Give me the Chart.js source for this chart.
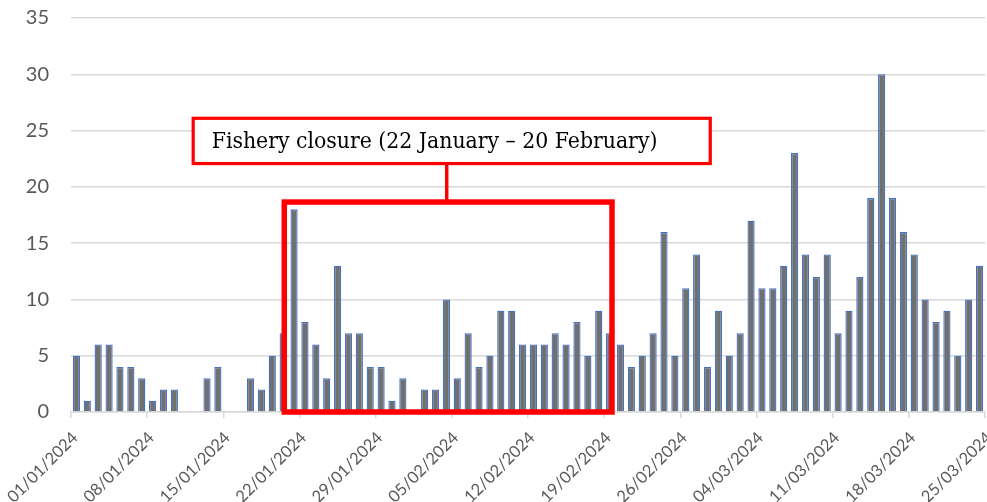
<!DOCTYPE html>
<html>
<head>
<meta charset="utf-8">
<script src="https://cdn.jsdelivr.net/npm/chart.js@4/dist/chart.umd.min.js"></script>
<style>
html,body{margin:0;padding:0;background:#fff;}
#wrap{width:987px;height:502px;}
</style>
</head>
<body>
<div id="wrap"><canvas id="c" width="987" height="502"></canvas></div>
<script>
// Daily dates (01/01/2024 – 24/03/2024)
const janValues = [5,1,6,6,4,4,3,1,2,2,0,0,3,4,0,0,3,2,5,7,18,8,6,3,13,7,7,4,4,1,3];
const febValues = [0,2,2,10,3,7,4,5,9,9,6,6,6,7,6,8,5,9,7,6,4,5,7,16,5,11,14,4,9];
const marValues = [5,7,17,11,11,13,23,14,12,14,7,9,12,19,30,19,16,14,10,8,9,5,10,13];
const tickLabels = ["01/01/2024","08/01/2024","15/01/2024","22/01/2024","29/01/2024","05/02/2024","12/02/2024","19/02/2024","26/02/2024","04/03/2024","11/03/2024","18/03/2024","25/03/2024"];
const annotationText = "Fishery closure (22 January \u2013 20 February)";

function pad(n){return (n<10?"0":"")+n;}
const categories = [];
[[1,31],[2,29],[3,24]].forEach(([m,d])=>{for(let i=1;i<=d;i++)categories.push(pad(i)+"/"+pad(m)+"/2024");});
const values = janValues.concat(febValues, marValues);

const annot = {
  box: {x0:19.6, x1:49.72, yTop:18.65},
  label: {x0:11.23, x1:58.75, yTop:26.09, yBot:22.07},
  connectorX: 34.53
};

const annotationPlugin = {
  id:'closure',
  afterDatasetsDraw(chart){
    const ctx = chart.ctx, xs = chart.scales.x2, ys = chart.scales.y;
    ctx.save();
    ctx.strokeStyle = '#ff0000';
    ctx.lineWidth = 5.5;
    const bx0 = xs.getPixelForValue(annot.box.x0), bx1 = xs.getPixelForValue(annot.box.x1);
    const by0 = ys.getPixelForValue(annot.box.yTop), by1 = ys.getPixelForValue(0);
    ctx.strokeRect(bx0, by0, bx1-bx0, by1-by0);
    const lx0 = xs.getPixelForValue(annot.label.x0), lx1 = xs.getPixelForValue(annot.label.x1);
    const ly0 = ys.getPixelForValue(annot.label.yTop), ly1 = ys.getPixelForValue(annot.label.yBot);
    ctx.fillStyle = '#ffffff';
    ctx.fillRect(lx0, ly0, lx1-lx0, ly1-ly0);
    ctx.lineWidth = 3.2;
    ctx.strokeRect(lx0, ly0, lx1-lx0, ly1-ly0);
    const cx = xs.getPixelForValue(annot.connectorX);
    ctx.lineWidth = 3.5;
    ctx.beginPath(); ctx.moveTo(cx, ly1); ctx.lineTo(cx, by0); ctx.stroke();
    const fam = '"DejaVu Serif Condensed", "DejaVu Serif", serif';
    let size = 22;
    ctx.font = size + 'px ' + fam;
    const w = ctx.measureText(annotationText).width;
    size = size * 446 / w;
    ctx.font = size + 'px ' + fam;
    ctx.fillStyle = '#000000';
    ctx.textBaseline = 'alphabetic';
    ctx.textAlign = 'left';
    ctx.fillText(annotationText, lx0 + 18.5, (ly0+ly1)/2 + 7.5);
    ctx.restore();
  }
};

new Chart(document.getElementById('c'), {
  type:'bar',
  data:{
    labels: categories,
    datasets:[{
      data: values,
      backgroundColor:'#707070',
      borderColor:'#4472C4',
      borderWidth:1.3,
      barPercentage:0.66,
      categoryPercentage:1.0,
      xAxisID:'x'
    }]
  },
  options:{
    responsive:false,
    animation:false,
    devicePixelRatio:1,
    layout:{padding:{top:18,right:2,left:0,bottom:0}},
    plugins:{legend:{display:false},tooltip:{enabled:false}},
    scales:{
      x:{type:'category',offset:true,display:false},
      x2:{
        type:'linear',position:'bottom',min:0,max:84,offset:false,
        afterBuildTicks(s){s.ticks = tickLabels.map((_,i)=>({value:i*7}));},
        ticks:{
          callback:(v)=>tickLabels[Math.round(v/7)],
          autoSkip:false,maxRotation:45,minRotation:45,
          color:'#595959',font:{family:'Lato',size:16.5},padding:10,labelOffset:4
        },
        grid:{offset:false,drawOnChartArea:false,drawTicks:true,tickLength:6,color:'#d9d9d9',lineWidth:1.5},
        border:{display:true,color:'#d9d9d9',width:1.5},
        afterFit(s){s.height = 90; s.paddingLeft = 0; s.paddingRight = 0; s.paddingTop = 0; s.paddingBottom = 0;}
      },
      y:{
        min:0,max:35,
        ticks:{stepSize:5,color:'#595959',font:{family:'Lato',size:20},padding:22},
        grid:{color:'#d9d9d9',lineWidth:1.5,drawTicks:false},
        border:{display:false},
        afterFit(s){s.width = 71; s.paddingTop = 0; s.paddingBottom = 0;}
      }
    }
  },
  plugins:[annotationPlugin]
});
</script>
</body>
</html>
